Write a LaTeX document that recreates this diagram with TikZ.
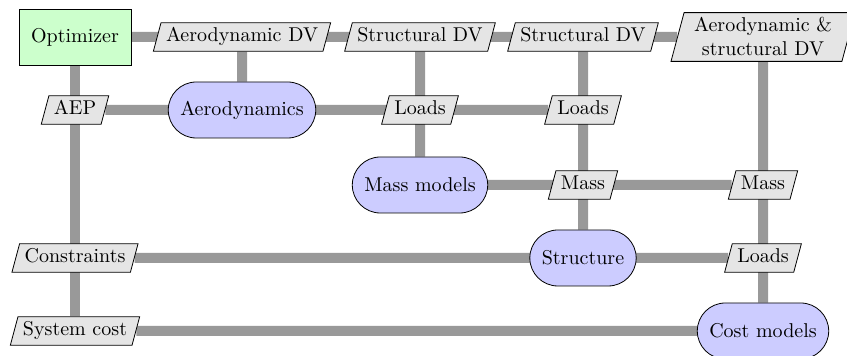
\documentclass[tikz,border=0pt]{standalone}
\usetikzlibrary{shapes.geometric,backgrounds}
\begin{document}
\begin{tikzpicture}[x=0.5pt,y=-0.5pt,
 dat/.style={trapezium, trapezium left angle=75, trapezium right angle=105, draw, fill=black!10, inner xsep=2.5pt, inner ysep=2.5pt, text height=7pt, text depth=2.2pt, align=center},
 dattwo/.style={dat, text height=, text depth=, inner ysep=2.5pt, inner xsep=5pt},
 func/.style={rectangle, rounded corners=14pt, draw, fill=blue!20, inner xsep=6pt, minimum height=28pt},
 optbox/.style={rectangle, draw, fill=green!20, inner xsep=6pt, minimum height=28pt},
 pipe/.style={draw=black!40, line width=5pt}]
\useasboundingbox (0,0) rectangle (847,356);
% row 1
\node[optbox] (opt) at (75,37) {Optimizer};
\node[dat] (aerodv) at (242,37) {Aerodynamic DV};
\node[dat] (sdv1) at (420,37) {Structural DV};
\node[dat] (sdv2) at (583,37) {Structural DV};
\node[dattwo] (asdv) at (763,37) {Aerodynamic \&\\ structural DV};
% row 2
\node[dat] (aep) at (75,110) {AEP};
\node[func] (aero) at (242,110) {Aerodynamics};
\node[dat] (loads1) at (420,110) {Loads};
\node[dat] (loads2) at (583,110) {Loads};
% row 3
\node[func] (massm) at (420,185) {Mass models};
\node[dat] (mass1) at (583,185) {Mass};
\node[dat] (mass2) at (763,185) {Mass};
% row 4
\node[dat] (cons) at (75,258) {Constraints};
\node[func] (struct) at (583,258) {Structure};
\node[dat] (loads3) at (763,258) {Loads};
% row 5
\node[dat] (syscost) at (75,331) {System cost};
\node[func] (costm) at (763,331) {Cost models};
\begin{pgfonlayer}{background}
\draw[pipe] (opt) -- (asdv);
\draw[pipe] (aep) -- (loads2);
\draw[pipe] (massm) -- (mass2);
\draw[pipe] (cons) -- (loads3);
\draw[pipe] (syscost) -- (costm);
\draw[pipe] (opt) -- (syscost);
\draw[pipe] (aerodv) -- (aero);
\draw[pipe] (sdv1) -- (massm);
\draw[pipe] (sdv2) -- (struct);
\draw[pipe] (asdv) -- (costm);
\end{pgfonlayer}
\end{tikzpicture}
\end{document}
